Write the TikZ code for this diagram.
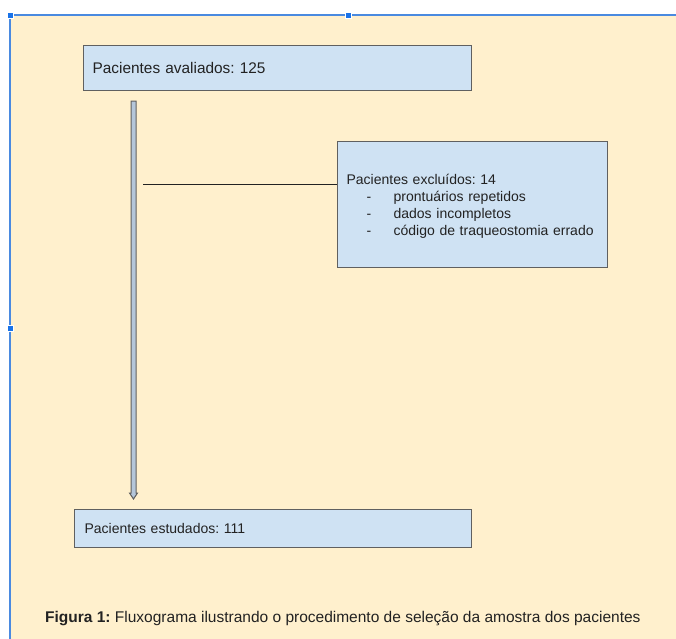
\documentclass[tikz,border=0pt]{standalone}
\usepackage{fontspec}
\setmainfont{Liberation Sans}
\usetikzlibrary{calc}
\definecolor{cream}{HTML}{FFF0CD}
\definecolor{boxfill}{HTML}{CFE2F3}
\definecolor{boxline}{HTML}{606060}
\definecolor{selblue}{HTML}{4A8AE0}
\definecolor{handle}{HTML}{1A73E8}
\definecolor{arrowfill}{HTML}{B4C6DA}
\definecolor{txt}{HTML}{222222}
\tikzset{
  flowbox/.style={draw=boxline, fill=boxfill, line width=1.2bp, rectangle, anchor=north west, inner ysep=0pt, text=txt, align=left},
  handlebox/.style={fill=handle, draw=white, line width=0.6bp},
}
\frenchspacing
\begin{document}
\begin{tikzpicture}[x=1bp,y=-1bp]
\useasboundingbox (0,0) rectangle (676,639);
\fill[white] (0,0) rectangle (676,639);
\fill[cream] (10,15) rectangle (676,639);
\draw[selblue, line width=1.3bp] (10,639) -- (10,15) -- (676,15);
\fill[handlebox] (7,12) rectangle (13,18);
\fill[handlebox] (345,12) rectangle (351,18);
\fill[handlebox] (7,325) rectangle (13,331);

% boxes
\node[flowbox, minimum width=388bp, minimum height=45bp, text width=370bp, inner xsep=9bp,
      font=\frenchspacing\fontsize{15.4bp}{18bp}\selectfont] (top) at (83,45) {\raisebox{-2bp}{Pacientes avaliados: 125}};
\node[flowbox, minimum width=270bp, minimum height=126bp, text width=252bp, inner xsep=9bp,
      font=\frenchspacing\fontsize{14bp}{17bp}\selectfont] (exc) at (337,141)
  {\rule{0pt}{14.5bp}Pacientes excluídos: 14\\
   \hspace*{20bp}\makebox[27bp][l]{-}prontuários repetidos\\
   \hspace*{20bp}\makebox[27bp][l]{-}dados incompletos\\
   \hspace*{20bp}\makebox[27bp][l]{-}código de traqueostomia errado};
\node[flowbox, minimum width=397bp, minimum height=38bp, text width=377bp, inner xsep=10bp,
      font=\frenchspacing\fontsize{14bp}{17bp}\selectfont] (bot) at (74,509) {Pacientes estudados: 111};

% block arrow
\coordinate (a1) at ($(top.south west)+(50.5,10)$);
\coordinate (a2) at ($(bot.north west)+(59.5,-10)$);
\draw[boxline, fill=arrowfill, line width=1bp, line join=miter]
  ($(a1)+(-2.5,0)$) -- ($(a1)+(2.5,0)$) -- ($(a2)+(2.5,-6)$) -- ($(a2)+(4,-6)$) -- (a2)
  -- ($(a2)+(-4,-6)$) -- ($(a2)+(-2.5,-6)$) -- cycle;

% connector line
\coordinate (l1) at (143,185);
\draw[txt, line width=1bp] (l1) -- (l1 -| exc.west);

% caption
\node[anchor=base west, inner sep=0pt, text=txt, font=\frenchspacing\fontsize{15.5bp}{18bp}\selectfont] (cap) at (45,622)
  {\textbf{Figura 1:} Fluxograma ilustrando o procedimento de seleção da amostra dos pacientes};
\end{tikzpicture}
\end{document}
